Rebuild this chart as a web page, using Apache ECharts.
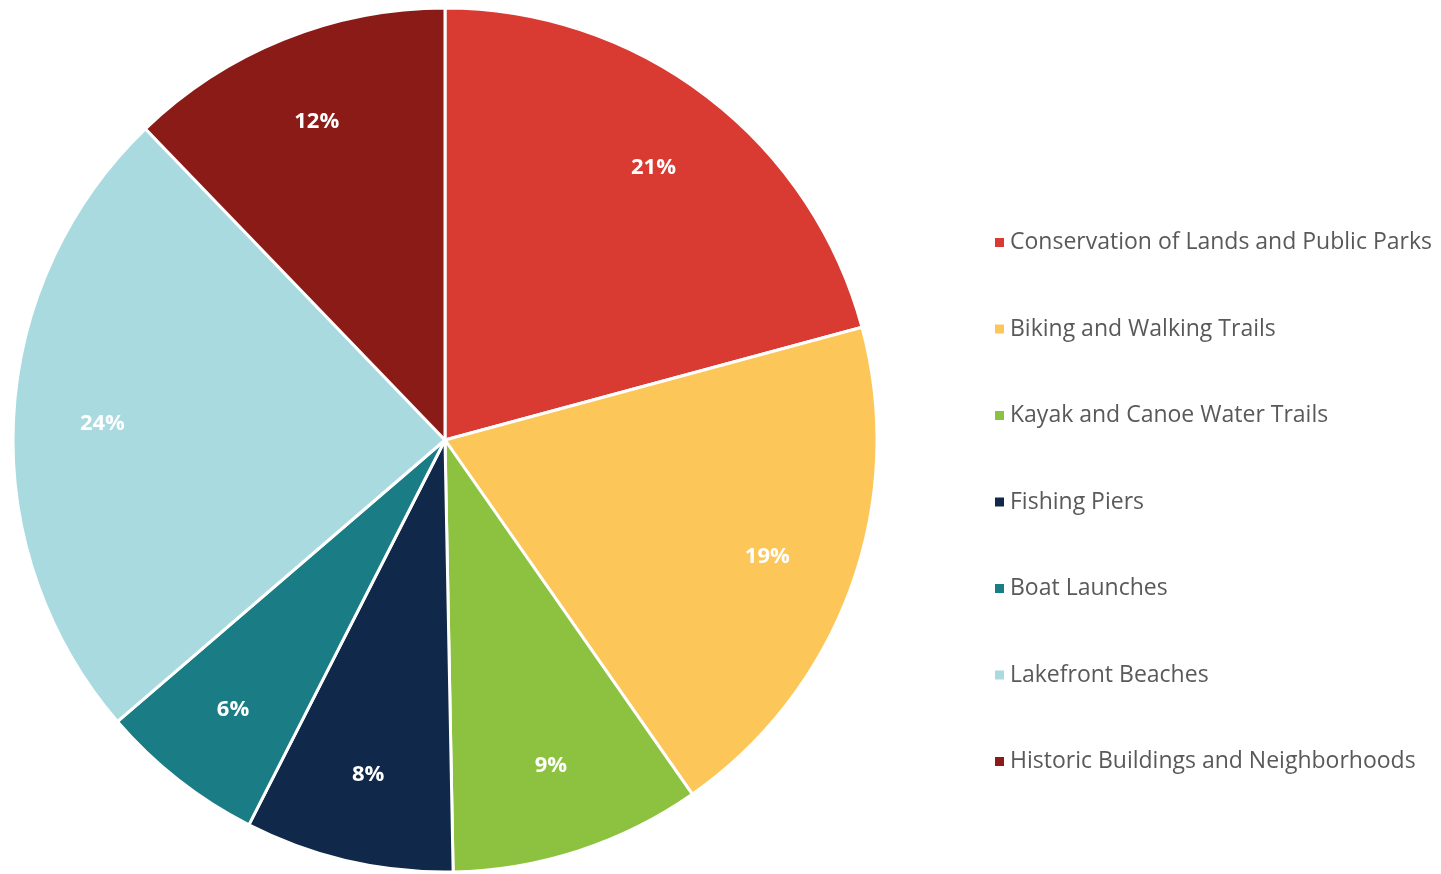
<!DOCTYPE html>
<html>
<head>
<meta charset="utf-8">
<script src="https://cdn.jsdelivr.net/npm/echarts@6/dist/echarts.min.js"></script>
<style>
html,body{margin:0;padding:0;background:#fff;}
#chart{width:1441px;height:874px;}
</style>
</head>
<body>
<div id="chart"></div>
<script>
const categories = [
  'Conservation of Lands and Public Parks',
  'Biking and Walking Trails',
  'Kayak and Canoe Water Trails',
  'Fishing Piers',
  'Boat Launches',
  'Lakefront Beaches',
  'Historic Buildings and Neighborhoods'
];
const values = [20.8, 19.5, 9.4, 7.8, 6.2, 24.1, 12.2];
const percentLabels = ['21%', '19%', '9%', '8%', '6%', '24%', '12%'];
const colors = ['#D93A31', '#FDC659', '#8DC240', '#10294A', '#1A7C84', '#A8DAE0', '#8B1B17'];

const data = categories.map((name, i) => ({ name: name, value: values[i], itemStyle: { color: colors[i] } }));
const labelData = categories.map((name, i) => ({ name: name, value: values[i], label: { formatter: percentLabels[i] } }));

const chart = echarts.init(document.getElementById('chart'), null, { renderer: 'canvas' });
chart.setOption({
  animation: false,
  backgroundColor: '#ffffff',
  legend: {
    orient: 'vertical',
    left: 988,
    top: 225,
    itemWidth: 11,
    itemHeight: 11,
    itemGap: 61.5,
    icon: 'rect',
    data: categories,
    textStyle: { fontFamily: 'Open Sans', fontSize: 23, color: '#595959', lineHeight: 25 },
    selectedMode: false
  },
  series: [
    {
      type: 'pie',
      center: [445, 440],
      radius: [0, 432],
      startAngle: 90,
      clockwise: true,
      label: { show: false },
      labelLine: { show: false },
      itemStyle: { borderColor: '#ffffff', borderWidth: 3 },
      emphasis: { disabled: true },
      data: data
    },
    {
      type: 'pie',
      center: [445, 440],
      radius: [248, 432],
      startAngle: 90,
      clockwise: true,
      silent: true,
      itemStyle: { color: 'rgba(0,0,0,0)', borderWidth: 0 },
      label: {
        show: true,
        position: 'inside',
        color: '#ffffff',
        fontFamily: 'Open Sans',
        fontWeight: 'bold',
        fontSize: 22
      },
      labelLine: { show: false },
      emphasis: { disabled: true },
      legendHoverLink: false,
      data: labelData
    }
  ]
});
</script>
</body>
</html>
